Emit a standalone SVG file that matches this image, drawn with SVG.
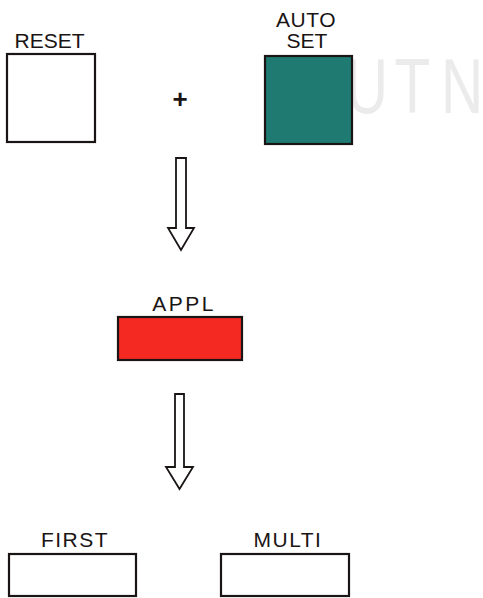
<svg xmlns="http://www.w3.org/2000/svg" width="483" height="598" viewBox="0 0 483 598">
<style>
.lbl{font-family:"Liberation Sans",Arial,sans-serif;font-size:21px;fill:#1a1414;text-anchor:middle}
.box{stroke:#1a1414;stroke-width:2.2}
.arr{fill:#fff;stroke:#1a1414;stroke-width:1.8;stroke-linejoin:miter}
.wm{font-family:"Liberation Sans",Arial,sans-serif;font-size:78px;fill:#ebebeb}
</style>
<rect width="483" height="598" fill="#fff"/>
<text class="wm" transform="scale(0.75,1)" x="461 526 588" y="113">UTN</text>
<g id="reset">
<rect class="box" x="7" y="54" width="88" height="88" fill="#fff"/>
<text class="lbl" x="49.5" y="48">RESET</text>
</g>
<g id="plus">
<text x="180" y="108" style="font-family:'Liberation Sans',Arial,sans-serif;font-size:26px;font-weight:bold;fill:#1a1414;text-anchor:middle">+</text>
</g>
<g id="autoset">
<rect class="box" x="265" y="56" width="87" height="88" fill="#1f7a72"/>
<text class="lbl" x="306" y="27" style="letter-spacing:0.5px">AUTO</text>
<text class="lbl" x="307" y="48">SET</text>
</g>
<g id="appl">
<rect class="box" x="118" y="317" width="124" height="43" fill="#f42a22"/>
<text class="lbl" x="184" y="310.5" style="letter-spacing:2.5px">APPL</text>
</g>
<g id="first">
<rect class="box" x="9" y="554" width="127" height="42" fill="#fff"/>
<text class="lbl" x="75" y="547" style="letter-spacing:1.5px">FIRST</text>
</g>
<g id="multi">
<rect class="box" x="221" y="554" width="128" height="42" fill="#fff"/>
<text class="lbl" x="288" y="546.5" style="letter-spacing:1.5px">MULTI</text>
</g>
<g id="connectors">
<polygon class="arr" points="176,158 186,158 186,228 194,228 181,250 168,228 176,228"/>
<polygon class="arr" points="175,394 184,394 184,467 193,467 179.5,489 166,467 175,467"/>
</g>
</svg>
